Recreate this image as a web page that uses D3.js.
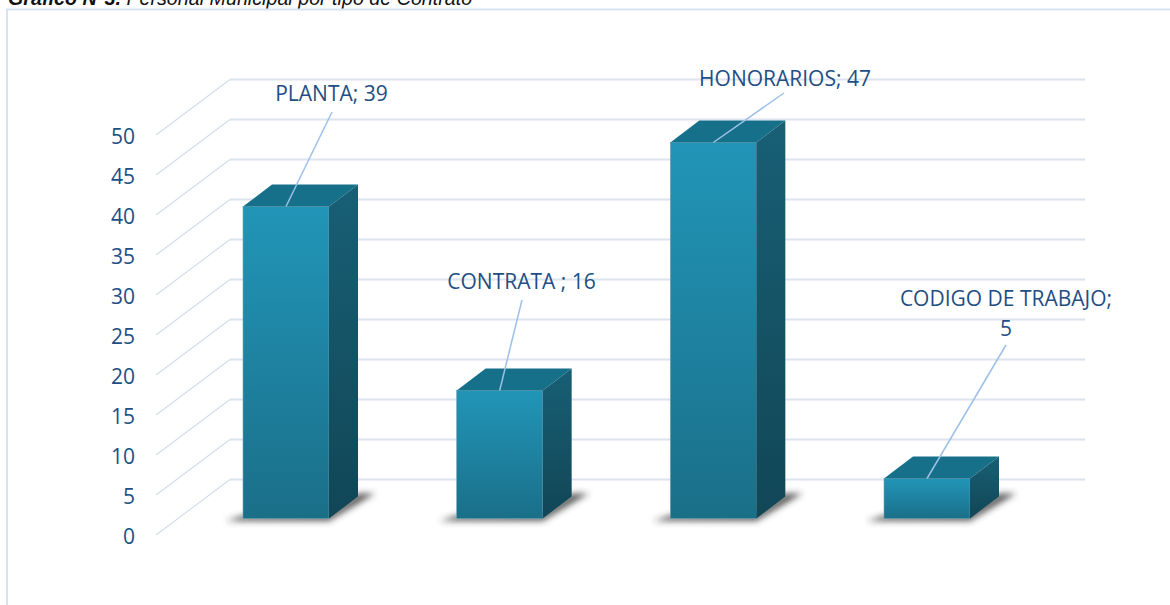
<!DOCTYPE html>
<html><head><meta charset="utf-8">
<style>html,body{margin:0;padding:0;background:#fff;overflow:hidden}svg{display:block}</style>
<script src="https://cdn.jsdelivr.net/npm/d3@7"></script></head>
<body><script>
const categories = ["PLANTA", "CONTRATA ", "HONORARIOS", "CODIGO DE TRABAJO"];
const values = [39, 16, 47, 5];
const yTicks = [0, 5, 10, 15, 20, 25, 30, 35, 40, 45, 50];
const titleBold = "Gráfico N°3.";
const titleRest = " Personal Municipal por tipo de Contrato";

const W = 1170, H = 605;
const svg = d3.select("body").append("svg").attr("width", W).attr("height", H);
const defs = svg.append("defs");

// layout constants
const floorDepth = {dx: 74, dy: -55.5};
const barDepth = {dx: 29, dy: -22};
const barFloorLift = -16.5;
const wallRight = 1085;

const y = d3.scaleLinear().domain([0, 50]).range([535, 135]);
const x = d3.scaleBand().domain(categories).range([243, 970]).paddingInner(0.5975).paddingOuter(0);
const barY = v => y(v) + barFloorLift;

function grad(id, stops) {
  const g = defs.append("linearGradient").attr("id", id)
    .attr("x1", 0).attr("x2", 0).attr("y1", 0).attr("y2", 1);
  stops.forEach(s => g.append("stop").attr("offset", s[0]).attr("stop-color", s[1]));
}
grad("front", [[0, "#2195b7"], [0.35, "#1f88a8"], [1, "#1a6f88"]]);
grad("side", [[0, "#185f75"], [1, "#114656"]]);
defs.append("filter").attr("id", "soft").attr("x", "-30%").attr("y", "-80%").attr("width", "160%").attr("height", "260%")
  .append("feGaussianBlur").attr("stdDeviation", 3);
defs.append("filter").attr("id", "aa").append("feGaussianBlur").attr("stdDeviation", 0.35);

const title = svg.append("text").attr("x", 8).attr("y", 5)
  .attr("font-family", "'Liberation Sans', Arial, sans-serif").attr("font-size", 19.7)
  .attr("font-style", "italic").attr("fill", "#111");
title.append("tspan").attr("font-weight", "bold").text(titleBold);
title.append("tspan").text(titleRest);

svg.append("path").attr("d", `M${W + 2},9.5H7V${H + 2}`).attr("fill", "none")
  .attr("stroke", "#d6e3f3").attr("stroke-width", 2);

const grid = svg.append("g").attr("filter", "url(#aa)");
grid.selectAll("path.depth").data(yTicks).join("path").attr("class", "depth")
  .attr("d", d => `M156,${y(d)}L${156 + floorDepth.dx},${y(d) + floorDepth.dy}`)
  .attr("fill", "none").attr("stroke", "#d3dbe7").attr("stroke-width", 1.1);
grid.selectAll("path.back").data(yTicks).join("path").attr("class", "back")
  .attr("d", d => `M${156 + floorDepth.dx},${y(d) + floorDepth.dy}H${wallRight}`)
  .attr("fill", "none").attr("stroke", "#dce4ef").attr("stroke-width", 2);

svg.append("g").selectAll("text").data(yTicks).join("text")
  .attr("x", 135).attr("y", d => y(d) + 8.5).attr("text-anchor", "end")
  .attr("font-family", "'Open Sans', sans-serif").attr("font-size", 21).attr("fill", "#1f4e84")
  .text(d => d);

const bars = svg.append("g").selectAll("g").data(categories.map((c, i) => ({c, v: values[i]}))).join("g");
bars.append("path").attr("filter", "url(#soft)").attr("fill", "#333").attr("fill-opacity", 0.8)
  .attr("d", d => {
    const l = x(d.c), r = l + x.bandwidth(), b = barY(0);
    return `M${l - 17},${b + 2.5}L${r},${b + 2.5}L${r + 46},${b - 25}L${r + barDepth.dx},${b - 25}L${r},${b - 5}L${l},${b - 3}Z`;
  });
bars.append("rect").attr("x", d => x(d.c)).attr("y", d => barY(d.v))
  .attr("width", x.bandwidth()).attr("height", d => barY(0) - barY(d.v))
  .attr("fill", "url(#front)").attr("stroke", "#6ba3b5").attr("stroke-width", 0.6);
bars.append("path").attr("fill", "#17708a")
  .attr("d", d => {
    const l = x(d.c), r = l + x.bandwidth(), t = barY(d.v);
    return `M${l},${t}L${l + barDepth.dx},${t + barDepth.dy}H${r + barDepth.dx}L${r},${t}Z`;
  });
bars.append("path").attr("fill", "url(#side)")
  .attr("d", d => {
    const r = x(d.c) + x.bandwidth(), t = barY(d.v), b = barY(0);
    return `M${r},${t}L${r + barDepth.dx},${t + barDepth.dy}V${b + barDepth.dy}L${r},${b}Z`;
  });

const labelLines = [["PLANTA; 39"], ["CONTRATA ; 16"], ["HONORARIOS; 47"], ["CODIGO DE TRABAJO;", "5"]];
const labelCenterX = [331.5, 521.5, 785, 1006];
const labelFirstBaseline = [100.5, 289, 85.5, 306];
const leaderEnd = [[332, 112], [522, 300], [784, 93], [1006, 345]];
const labels = svg.append("g");
categories.forEach((c, i) => {
  const cx = x(c) + x.bandwidth() / 2;
  labels.append("line").attr("x1", leaderEnd[i][0]).attr("y1", leaderEnd[i][1])
    .attr("x2", cx).attr("y2", barY(values[i]))
    .attr("stroke", "#9dc0e8").attr("stroke-width", 1.5);
  labelLines[i].forEach((t, j) => labels.append("text")
    .attr("x", labelCenterX[i]).attr("y", labelFirstBaseline[i] + j * 29.5)
    .attr("text-anchor", "middle").attr("font-family", "'Open Sans', sans-serif")
    .attr("font-size", 21).attr("fill", "#1f4e84").text(t));
});
</script></body></html>
